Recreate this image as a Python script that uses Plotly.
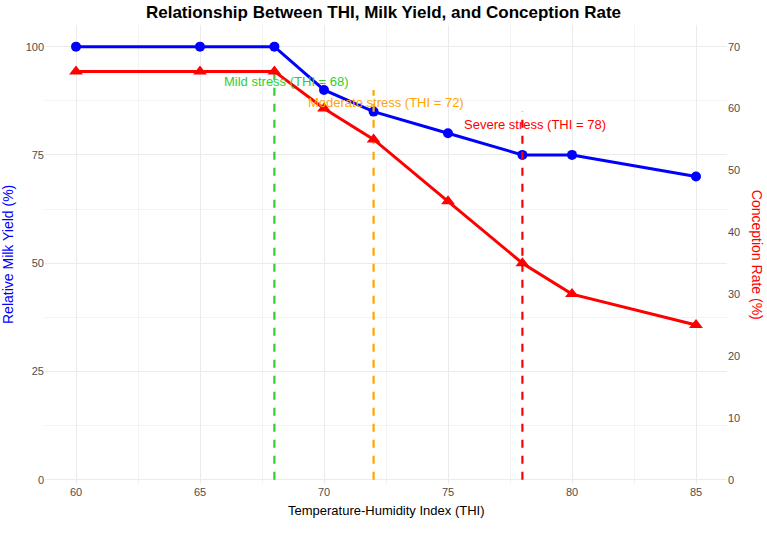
import plotly.graph_objects as go

thi = [60, 65, 68, 70, 72, 75, 78, 80, 85]
milk_yield = [100, 100, 100, 90, 85, 80, 75, 75, 70]
conception = [66, 66, 66, 60, 55, 45, 35, 30, 25]

stress_thi = [68, 72, 78]
stress_top = [95, 90, 85]
stress_labels = ["Mild stress (THI = 68)", "Moderate stress (THI = 72)", "Severe stress (THI = 78)"]
stress_colors = ["#32CD32", "#FFA500", "#FF0000"]

x_ticks = [60, 65, 70, 75, 80, 85]
y_ticks = [0, 25, 50, 75, 100]
y2_ticks = [0, 10, 20, 30, 40, 50, 60, 70]

SCALE = 100 / 70  # secondary axis transform
FONT = "Liberation Sans, Arial, sans-serif"
GRID = "#ebebeb"

fig = go.Figure()

fig.add_trace(go.Scatter(
    x=thi, y=milk_yield, mode="lines+markers",
    line=dict(color="#0000FF", width=3),
    marker=dict(color="#0000FF", size=10, symbol="circle"),
    showlegend=False, yaxis="y"))

fig.add_trace(go.Scatter(
    x=thi, y=conception, mode="lines+markers",
    line=dict(color="#FF0000", width=3),
    marker=dict(color="#FF0000", size=12, symbol="triangle-up"),
    showlegend=False, yaxis="y2"))

for xv, top, lab, col in zip(stress_thi, stress_top, stress_labels, stress_colors):
    fig.add_trace(go.Scatter(
        x=[xv, xv], y=[0, top], mode="lines",
        line=dict(color=col, width=2.2, dash="8px,8px"),
        showlegend=False, yaxis="y"))
    fig.add_annotation(x=xv + 0.5, y=top - 3, xref="x", yref="y", text=lab,
                       showarrow=False, font=dict(family=FONT, size=13, color=col))

yr = [-1, 105]
fig.update_layout(
    width=767, height=539,
    margin=dict(l=45, r=40, t=25, b=55),
    paper_bgcolor="white", plot_bgcolor="white",
    font=dict(family=FONT),
    title=dict(text="<b>Relationship Between THI, Milk Yield, and Conception Rate</b>",
               x=0.5, xanchor="center", y=1 - 12 / 539, yanchor="middle",
               font=dict(family=FONT, size=17, color="black")),
    xaxis=dict(range=[58.75, 86.25], tickvals=x_ticks, showgrid=True, gridcolor=GRID,
               gridwidth=1, zeroline=False, showline=False, ticks="",
               tickfont=dict(size=11, color="#4d4d4d"),
               minor=dict(tickvals=[57.5, 62.5, 67.5, 72.5, 77.5, 82.5, 87.5],
                          showgrid=True, gridcolor="#f3f3f3", gridwidth=1)),
    yaxis=dict(range=yr, tickvals=y_ticks, showgrid=True, gridcolor=GRID, gridwidth=1,
               zeroline=False, showline=False, ticks="",
               tickfont=dict(size=11, color="#4d4d4d"),
               minor=dict(tickvals=[12.5, 37.5, 62.5, 87.5],
                          showgrid=True, gridcolor="#f3f3f3", gridwidth=1)),
    yaxis2=dict(range=[yr[0] / SCALE, yr[1] / SCALE], tickvals=y2_ticks, overlaying="y",
                side="right", showgrid=False, zeroline=False, showline=False, ticks="",
                tickfont=dict(size=11, color="#4d4d4d")),
)

fig.add_annotation(x=-0.055, y=0.5, xref="paper", yref="paper", xanchor="center", yanchor="middle",
                   text="Relative Milk Yield (%)", textangle=-90, showarrow=False,
                   font=dict(family=FONT, size=14, color="#0000FF"))
fig.add_annotation(x=1.045, y=0.5, xref="paper", yref="paper", xanchor="center", yanchor="middle",
                   text="Conception Rate (%)", textangle=90, showarrow=False,
                   font=dict(family=FONT, size=14, color="#FF0000"))
fig.add_annotation(x=0.5, y=-0.057, xref="paper", yref="paper", xanchor="center", yanchor="middle",
                   text="Temperature-Humidity Index (THI)", showarrow=False,
                   font=dict(family=FONT, size=13, color="black"))

fig.write_html("out.html")
